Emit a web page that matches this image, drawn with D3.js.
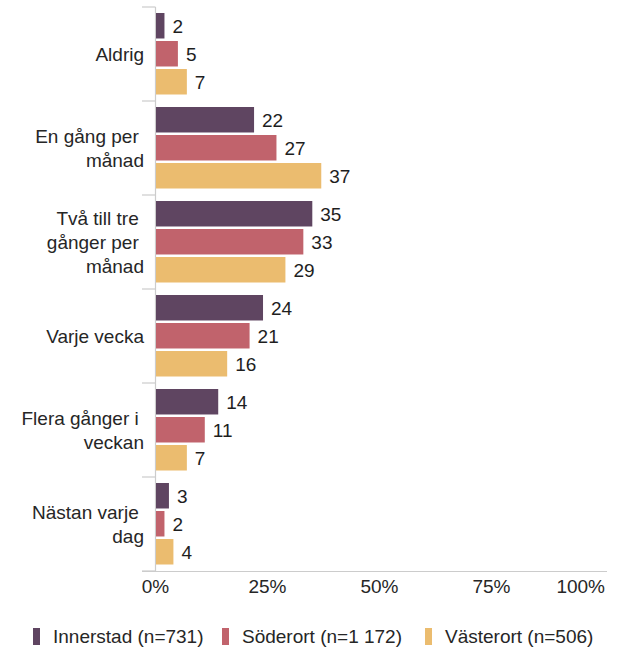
<!DOCTYPE html>
<html>
<head>
<meta charset="utf-8">
<script src="https://cdn.jsdelivr.net/npm/d3@7"></script>
<style>
  html, body { margin: 0; padding: 0; background: #fff; }
  svg { display: block; font-family: "Liberation Sans", Arial, Helvetica, sans-serif; }
  text { white-space: pre; }
</style>
</head>
<body>
<svg id="chart" width="625" height="650"></svg>
<script>
// Response categories, each label split into its lines
const categories = ["Aldrig", "En gång per månad", "Två till tre gånger per månad", "Varje vecka", "Flera gånger i veckan", "Nästan varje dag"];
const categoryLines = [
  ["Aldrig"],
  ["En gång per ", "månad"],
  ["Två till tre ", "gånger per ", "månad"],
  ["Varje vecka"],
  ["Flera gånger i ", "veckan"],
  ["Nästan varje ", "dag"]
];
const seriesNames = ["Innerstad (n=731)", "Söderort (n=1 172)", "Västerort (n=506)"];
const innerstad = [2, 22, 35, 24, 14, 3];
const soderort  = [5, 27, 33, 21, 11, 2];
const vasterort = [7, 37, 29, 16, 7, 4];
const xTicks = [0, 25, 50, 75, 100];
const tickLabels = ["0%", "25%", "50%", "75%", "100%"];
const colors = ["#5f4561", "#c1636c", "#ebbc6f"];

const series = [innerstad, soderort, vasterort];
const svg = d3.select("#chart");
const fontSize = 19;

const x = d3.scaleLinear().domain([0, 100]).range([155.5, 603.5]);
const y = d3.scaleBand().domain(categories).range([7, 571]).paddingInner(0).paddingOuter(0);
const ySub = d3.scaleBand().domain(d3.range(series.length)).range([6, 87.5]).paddingInner(0.09);

// Left axis line and group separators
const axisColor = "#cccccc";
svg.append("line")
  .attr("x1", x(0)).attr("x2", x(0))
  .attr("y1", y.range()[0]).attr("y2", y.range()[1])
  .attr("stroke", axisColor).attr("stroke-width", 1.2);
const boundaries = categories.map(c => y(c)).concat([y.range()[1]]);
svg.append("g").selectAll("line").data(boundaries).join("line")
  .attr("x1", 142).attr("x2", x(0))
  .attr("y1", d => d).attr("y2", d => d)
  .attr("stroke", axisColor).attr("stroke-width", 1.2);

// Bottom axis line
svg.append("line")
  .attr("x1", 142).attr("x2", 607)
  .attr("y1", y.range()[1] + 0.5).attr("y2", y.range()[1] + 0.5)
  .attr("stroke", axisColor).attr("stroke-width", 1.2);

// Bars and value labels
const groups = svg.append("g").selectAll("g").data(categories).join("g")
  .attr("transform", c => `translate(0,${y(c)})`);

groups.each(function(c, ci) {
  const g = d3.select(this);
  series.forEach((vals, si) => {
    const v = vals[ci];
    g.append("rect")
      .attr("x", x(0) + 0.5)
      .attr("y", ySub(si))
      .attr("width", x(v) - x(0) - 0.5)
      .attr("height", ySub.bandwidth())
      .attr("fill", colors[si]);
    g.append("text")
      .attr("x", x(v) + 8)
      .attr("y", ySub(si) + ySub.bandwidth() / 2)
      .attr("dy", "0.36em")
      .attr("font-size", fontSize)
      .attr("fill", "#1e1e1e")
      .text(v);
  });
  // Category label, right aligned, centred on the group
  const lines = categoryLines[ci];
  const lh = 24;
  const cy = y.bandwidth() / 2;
  lines.forEach((ln, li) => {
    g.append("text")
      .attr("x", 144)
      .attr("y", cy + (li - (lines.length - 1) / 2) * lh)
      .attr("dy", "0.36em")
      .attr("text-anchor", "end")
      .attr("font-size", fontSize)
      .attr("fill", "#262626")
      .text(ln);
  });
});

// X tick labels
svg.append("g").selectAll("text").data(xTicks).join("text")
  .attr("x", (d, i) => i === xTicks.length - 1 ? 605 : x(d))
  .attr("y", 586)
  .attr("dy", "0.36em")
  .attr("text-anchor", (d, i) => i === xTicks.length - 1 ? "end" : "middle")
  .attr("font-size", fontSize)
  .attr("fill", "#262626")
  .text((d, i) => tickLabels[i]);

// Legend
const legendX = [33, 222, 425];
const legend = svg.append("g").selectAll("g").data(seriesNames).join("g")
  .attr("transform", (d, i) => `translate(${legendX[i]},628)`);
legend.append("rect")
  .attr("width", 7).attr("height", 17)
  .attr("fill", (d, i) => colors[i]);
legend.append("text")
  .attr("x", 20).attr("y", 8.5).attr("dy", "0.36em")
  .attr("font-size", fontSize)
  .attr("fill", "#262626")
  .text(d => d);
</script>
</body>
</html>
